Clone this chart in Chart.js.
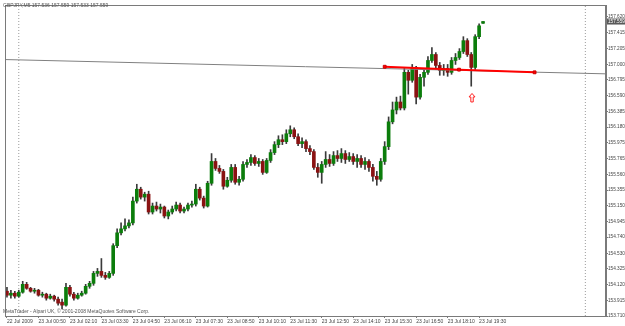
<!DOCTYPE html>
<html>
<head>
<meta charset="utf-8">
<script src="https://cdn.jsdelivr.net/npm/chart.js@4.4.0/dist/chart.umd.min.js"></script>
<style>
  html, body { margin: 0; padding: 0; background: #ffffff; }
  #wrap { width: 625px; height: 326px; }
</style>
</head>
<body>
<div id="wrap"><canvas id="c" width="625" height="326"></canvas></div>
<script>
// ---- Data (GBPJPY, 22 Jul 23:30 -> 23 Jul 19:40, one bar per slot) ----
const barOpen = [
  154.034,153.982,154.008,153.969,154.021,154.124,154.072,154.034,154.047,153.982,
  153.995,153.943,153.969,153.930,153.891,153.852,154.085,153.995,153.943,153.982,
  154.008,154.098,154.137,154.267,154.293,154.241,154.215,154.267,154.629,154.797,
  154.849,154.888,154.927,155.212,155.367,155.264,155.302,155.069,155.147,155.108,
  155.134,155.017,155.069,155.108,155.160,155.082,155.108,155.160,155.173,155.367,
  155.251,155.147,155.445,155.730,155.639,155.600,155.406,155.484,155.652,155.458,
  155.497,155.691,155.717,155.781,155.704,155.730,155.587,155.743,155.846,155.950,
  156.014,155.989,156.092,156.144,156.053,155.963,155.989,155.898,155.859,155.652,
  155.587,155.691,155.756,155.704,155.807,155.769,155.833,155.756,155.794,155.730,
  155.769,155.691,155.730,155.652,155.536,155.497,155.730,155.924,156.248,156.403,
  156.507,156.429,156.895,156.791,156.959,156.571,156.830,156.895,157.050,157.128,
  156.985,156.921,156.946,156.895,157.050,157.089,157.167,157.309,157.128,156.959,
  157.361,157.536
];
const barHigh = [
  154.085,154.047,154.034,154.047,154.163,154.150,154.085,154.072,154.059,154.021,
  154.008,153.995,153.982,153.956,153.930,154.137,154.111,154.021,154.008,154.034,
  154.124,154.163,154.293,154.332,154.461,154.280,154.293,154.655,154.849,154.927,
  154.979,154.966,155.264,155.432,155.393,155.328,155.341,155.186,155.199,155.173,
  155.147,155.095,155.147,155.199,155.186,155.134,155.186,155.212,155.432,155.393,
  155.277,155.471,155.833,155.769,155.678,155.626,155.523,155.691,155.691,155.536,
  155.730,155.756,155.820,155.807,155.769,155.756,155.769,155.885,155.989,156.066,
  156.079,156.144,156.196,156.170,156.092,156.040,156.014,155.937,155.885,155.704,
  155.730,155.859,155.820,155.859,155.872,155.898,155.872,155.846,155.833,155.820,
  155.807,155.781,155.756,155.691,155.600,155.769,155.989,156.312,156.507,156.571,
  156.584,156.946,156.921,156.998,156.972,156.869,156.921,157.102,157.218,157.154,
  157.024,156.998,156.998,157.089,157.141,157.205,157.361,157.335,157.154,157.387,
  157.529,157.559
];
const barLow = [
  153.956,153.943,153.943,153.956,154.008,154.059,154.021,154.008,153.969,153.956,
  153.917,153.930,153.904,153.852,153.801,153.839,153.969,153.917,153.930,153.969,
  153.995,154.072,154.111,154.228,154.215,154.189,154.202,154.241,154.603,154.771,
  154.823,154.862,154.901,155.186,155.238,155.212,155.043,155.043,155.082,155.056,
  154.991,154.979,155.043,155.082,155.056,155.056,155.082,155.134,155.147,155.225,
  155.121,155.134,155.419,155.613,155.574,155.367,155.393,155.458,155.432,155.419,
  155.471,155.652,155.678,155.678,155.665,155.561,155.574,155.717,155.820,155.911,
  155.950,155.963,156.053,156.027,155.937,155.911,155.859,155.820,155.626,155.523,
  155.445,155.652,155.665,155.678,155.730,155.717,155.704,155.730,155.691,155.652,
  155.652,155.626,155.600,155.471,155.419,155.471,155.691,155.885,156.222,156.351,
  156.403,156.403,156.610,156.765,156.481,156.545,156.714,156.869,157.024,156.946,
  156.856,156.856,156.843,156.869,156.998,157.063,157.141,157.102,156.714,156.933,
  157.335,157.533
];
const barClose = [
  153.982,154.008,153.969,154.021,154.124,154.072,154.034,154.047,153.982,153.995,
  153.943,153.969,153.930,153.878,153.852,154.085,153.995,153.943,153.982,154.008,
  154.098,154.137,154.267,154.293,154.241,154.215,154.267,154.629,154.797,154.849,
  154.888,154.927,155.212,155.367,155.264,155.302,155.069,155.147,155.108,155.134,
  155.017,155.069,155.108,155.160,155.082,155.108,155.160,155.173,155.367,155.251,
  155.147,155.445,155.730,155.639,155.600,155.406,155.484,155.652,155.458,155.497,
  155.691,155.717,155.781,155.704,155.730,155.587,155.743,155.846,155.950,156.014,
  155.989,156.092,156.144,156.053,155.963,155.989,155.898,155.859,155.652,155.587,
  155.691,155.756,155.704,155.807,155.769,155.833,155.756,155.794,155.730,155.769,
  155.691,155.730,155.652,155.536,155.497,155.730,155.924,156.248,156.403,156.507,
  156.429,156.895,156.791,156.959,156.571,156.830,156.895,157.050,157.128,156.985,
  156.921,156.946,156.895,157.050,157.089,157.167,157.309,157.128,156.959,157.361,
  157.503,157.559
];

// Time-axis labels and the bar slot each one sits on
const xTickSlots  = [0, 8, 16, 24, 32, 40, 48, 56, 64, 72, 80, 88, 96, 104, 112, 120];
const xTickLabels = ['22 Jul 2009','23 Jul 00:50','23 Jul 02:10','23 Jul 03:30','23 Jul 04:50',
  '23 Jul 06:10','23 Jul 07:30','23 Jul 08:50','23 Jul 10:10','23 Jul 11:30','23 Jul 12:50',
  '23 Jul 14:10','23 Jul 15:30','23 Jul 16:50','23 Jul 18:10','23 Jul 19:30'];

// Price-axis labels
const yTickValues = [157.620,157.415,157.205,157.000,156.795,156.590,156.385,156.180,155.975,
  155.765,155.560,155.355,155.150,154.945,154.740,154.530,154.325,154.120,153.915,153.710];

// Day separators (bar slots of 23 Jul 00:00 and 24 Jul 00:00)
const daySeparatorSlots = [3, 147];

// Gray trend line (slot, price) and red trend line (slot, price)
const grayLineX = [-0.5, 152.25];
const grayLineY = [157.062, 156.875];
const redLineX = [96, 114.9, 134.1];
const redLineY = [156.968, 156.930, 156.895];

// Red up-arrow marker (slot, price)
const arrowSlot = 118.2;
const arrowPrice = 156.56;

const headerText = 'GBPJPY,M5 157.536 157.559 157.533 157.559';
const footerText = 'MetaTrader - Alpari UK, \u00A9 2001-2008 MetaQuotes Software Corp.';
const lastPrice = 157.559;

const Y_MIN = 153.710, Y_MAX = 157.775;
const X_MIN = -0.5, X_MAX = 152.25;
const FONT = '"Liberation Sans", Arial, sans-serif';

// ---- Build datasets ----
const slots = barOpen.map((_, i) => i);
const wickData = slots.map(i => ({ x: i, y: [barLow[i], barHigh[i]] }));
const bodyData = slots.map(i => ({ x: i, y: [barOpen[i], barClose[i]] }));
const bodyColors = slots.map(i => barClose[i] >= barOpen[i] ? '#0b7d0b' : '#8a1212');

const sepDatasets = daySeparatorSlots.map(s => ({
  type: 'line',
  data: [{ x: s, y: Y_MIN }, { x: s, y: Y_MAX }],
  borderColor: '#9a9a9a', borderWidth: 1, borderDash: [1, 2],
  pointRadius: 0, order: 5
}));

const overlayPlugin = {
  id: 'mtOverlay',
  afterDatasetsDraw(chart) {
    const { ctx, chartArea: a, scales } = chart;
    ctx.save();
    // frame
    ctx.strokeStyle = '#7a7a7a';
    ctx.lineWidth = 1;
    ctx.strokeRect(a.left + 0.5, a.top + 0.5, a.right - a.left - 1, a.bottom - a.top);
    // header & footer text
    ctx.fillStyle = '#555';
    ctx.font = '5px ' + FONT;
    ctx.textBaseline = 'middle';
    ctx.textAlign = 'left';
    ctx.fillText(headerText, 3, 6);
    ctx.fillText(footerText, 3, 312);
    // red up arrow
    const ax = scales.x.getPixelForValue(arrowSlot);
    const ay = scales.y.getPixelForValue(arrowPrice);
    ctx.strokeStyle = '#ff2020';
    ctx.lineWidth = 1;
    ctx.beginPath();
    ctx.moveTo(ax, ay - 4.5);
    ctx.lineTo(ax + 3, ay - 1);
    ctx.lineTo(ax + 1.2, ay - 1);
    ctx.lineTo(ax + 1.2, ay + 4);
    ctx.lineTo(ax - 1.2, ay + 4);
    ctx.lineTo(ax - 1.2, ay - 1);
    ctx.lineTo(ax - 3, ay - 1);
    ctx.closePath();
    ctx.stroke();
    ctx.restore();
  },
  afterDraw(chart) {
    const { ctx, chartArea: a, scales } = chart;
    const py = scales.y.getPixelForValue(lastPrice);
    ctx.save();
    ctx.fillStyle = '#5a5a5a';
    ctx.fillRect(a.right + 1, py - 3, 625 - a.right - 1, 6);
    ctx.fillStyle = '#ffffff';
    ctx.font = '4.7px ' + FONT;
    ctx.textBaseline = 'middle';
    ctx.textAlign = 'left';
    ctx.fillText(lastPrice.toFixed(3), a.right + 2, py + 0.5);
    ctx.restore();
  }
};

new Chart(document.getElementById('c'), {
  type: 'bar',
  data: {
    datasets: [
      {
        type: 'line',
        data: grayLineX.map((x, k) => ({ x, y: grayLineY[k] })),
        borderColor: '#808080', borderWidth: 1, pointRadius: 0, order: 1
      },
      {
        type: 'line',
        data: redLineX.map((x, k) => ({ x, y: redLineY[k] })),
        borderColor: '#ff0000', borderWidth: 2,
        pointStyle: 'rect', pointRadius: 2,
        pointBackgroundColor: '#ff0000', pointBorderColor: '#cc0000', pointBorderWidth: 1,
        order: 0
      },
      {
        type: 'bar',
        data: bodyData,
        backgroundColor: bodyColors,
        barThickness: 3,
        grouped: false,
        order: 2
      },
      {
        type: 'bar',
        data: wickData,
        backgroundColor: '#3a3a3a',
        barThickness: 1,
        grouped: false,
        order: 3
      },
      ...sepDatasets
    ]
  },
  options: {
    responsive: false,
    animation: false,
    events: [],
    layout: { padding: { top: 2, left: 0, right: 0, bottom: 0 } },
    plugins: { legend: { display: false }, tooltip: { enabled: false }, title: { display: false } },
    scales: {
      x: {
        type: 'linear',
        min: X_MIN, max: X_MAX,
        offset: false,
        grid: { display: true, drawOnChartArea: false, offset: false, tickLength: 2, color: '#7a7a7a' },
        border: { display: true, color: '#7a7a7a' },
        afterBuildTicks: (scale) => { scale.ticks = xTickSlots.map(v => ({ value: v })); },
        afterFit: (scale) => { scale.height = 10; },
        ticks: {
          autoSkip: false, maxRotation: 0, minRotation: 0, align: 'start', padding: 1,
          color: '#444', font: { family: FONT, size: 5 },
          callback: (v) => { const k = xTickSlots.indexOf(v); return k >= 0 ? xTickLabels[k] : ''; }
        }
      },
      y: {
        type: 'linear',
        position: 'right',
        min: Y_MIN, max: Y_MAX,
        grid: { display: true, drawOnChartArea: false, tickLength: 2, color: '#7a7a7a' },
        border: { display: true, color: '#7a7a7a' },
        afterBuildTicks: (scale) => { scale.ticks = yTickValues.map(v => ({ value: v })); },
        afterFit: (scale) => { scale.width = 19; },
        ticks: {
          autoSkip: false, padding: 0, color: '#444', font: { family: FONT, size: 4.7 },
          callback: (v) => Number(v).toFixed(3)
        }
      }
    }
  },
  plugins: [overlayPlugin]
});
</script>
</body>
</html>
